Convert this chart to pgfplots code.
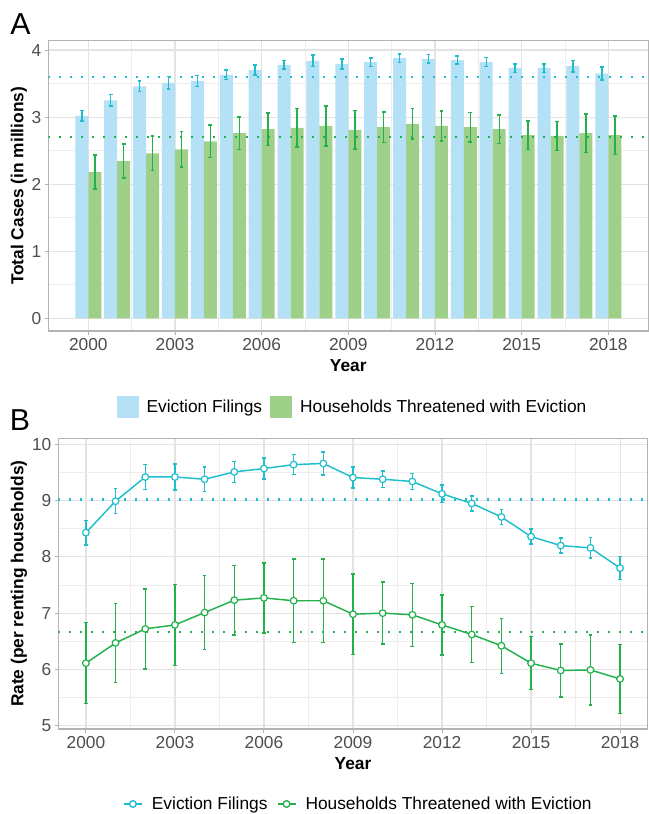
\documentclass[border=0pt]{standalone}
\usepackage{pgfplots}
\pgfplotsset{compat=1.18}
\usepackage{pgfplotstable}
\usepackage{fontspec}
\setmainfont{Liberation Sans}

\definecolor{barblue}{HTML}{B4E1F6}
\definecolor{bargreen}{HTML}{9FD08A}
\definecolor{lblue}{HTML}{20BECD}
\definecolor{lgreen}{HTML}{22B14C}
\definecolor{gridmaj}{HTML}{E3E3E3}
\definecolor{gridmin}{HTML}{EDEDED}
\definecolor{bordergray}{HTML}{B3B3B3}
\definecolor{ticktext}{HTML}{4D4D4D}

\pgfplotstableread{
year ef efe ht hte
2000 3.02 0.080 2.18 0.253
2001 3.25 0.085 2.345 0.253
2002 3.46 0.080 2.46 0.258
2003 3.51 0.092 2.52 0.266
2004 3.54 0.082 2.64 0.243
2005 3.63 0.070 2.76 0.239
2006 3.70 0.075 2.82 0.243
2007 3.78 0.065 2.84 0.288
2008 3.84 0.085 2.87 0.298
2009 3.79 0.075 2.81 0.288
2010 3.82 0.062 2.85 0.226
2011 3.88 0.062 2.90 0.229
2012 3.87 0.062 2.87 0.224
2013 3.85 0.060 2.85 0.219
2014 3.82 0.065 2.82 0.211
2015 3.73 0.062 2.73 0.211
2016 3.73 0.062 2.72 0.214
2017 3.76 0.085 2.76 0.286
2018 3.65 0.097 2.73 0.288
}\dataA

\pgfplotstableread{
year ef efe ht hte
2000 8.43 0.216 6.11 0.72
2001 8.99 0.222 6.47 0.70
2002 9.42 0.219 6.72 0.71
2003 9.42 0.231 6.79 0.72
2004 9.38 0.219 7.01 0.66
2005 9.51 0.184 7.23 0.62
2006 9.57 0.190 7.27 0.625
2007 9.64 0.178 7.22 0.74
2008 9.66 0.204 7.22 0.746
2009 9.41 0.184 6.98 0.717
2010 9.38 0.148 7.00 0.55
2011 9.34 0.142 6.97 0.56
2012 9.12 0.154 6.79 0.536
2013 8.95 0.133 6.62 0.50
2014 8.71 0.136 6.42 0.489
2015 8.36 0.133 6.11 0.471
2016 8.20 0.133 5.98 0.471
2017 8.16 0.181 5.99 0.622
2018 7.80 0.207 5.83 0.616
}\dataB

\pgfplotsset{
  gg/.style={
    scale only axis,
    anchor=south west,
    axis line style={draw=bordergray, line width=0.9pt},
    grid=both,
    major grid style={draw=gridmaj, line width=0.9pt},
    minor grid style={draw=gridmin, line width=0.5pt},
    tick style={draw=bordergray, line width=0.7pt},
    major tick length=2.8pt,
    minor tick length=0pt,
    tick align=outside,
    xtick pos=bottom, ytick pos=left,
    /pgf/number format/assume math mode=true,
    /pgf/number format/1000 sep={},
    ticklabel style={font=\fontsize{13}{15.6}\selectfont, text=ticktext, inner sep=0pt},
    xticklabel style={anchor=north, yshift=-2.5pt},
    yticklabel style={anchor=east, xshift=-2.2pt},
    legend style={draw=none, fill=none, font=\fontsize{13}{15.6}\selectfont,
      legend columns=2, nodes={inner sep=0pt}, column sep=6pt},
  },
  errb/.style={forget plot, draw=none, mark=none,
    error bars/.cd, y dir=both, y explicit,
    error bar style={draw=#1, line width=1.1pt, solid},
    error mark options={rotate=90, draw=#1, line width=1.1pt, mark size=1.4pt}},
}

\begin{document}
\begin{tikzpicture}
\begin{scope}[x=0.75pt,y=0.75pt]
\useasboundingbox (0,0) rectangle (648,814);
\end{scope}

% ---------------- Panel A ----------------
\begin{axis}[gg,
  at={(36.225pt,362.25pt)},
  width=450pt, height=217.7pt,
  xmin=1998.615, xmax=2019.385, ymin=-0.189, ymax=4.139,
  xtick={2000,2003,...,2018},
  minor xtick={2001.5,2004.5,2007.5,2010.5,2013.5,2016.5},
  ytick={0,1,2,3,4},
  minor ytick={0.5,1.5,2.5,3.5},
  legend style={at={(axis description cs:0.5053,-0.2618)}, anchor=center},
  legend image code/.code={\fill[#1, draw=none] (0pt,-8.25pt) rectangle (16.5pt,8.25pt);},
]
\addplot[forget plot, ybar, bar width=0.45, bar shift=-0.225, fill=barblue, draw=none]
  table[x=year, y=ef] {\dataA};
\addplot[forget plot, ybar, bar width=0.45, bar shift=0.225, fill=bargreen, draw=none]
  table[x=year, y=ht] {\dataA};
\addplot[errb=lblue] table[x expr=\thisrow{year}-0.225, y=ef, y error=efe] {\dataA};
\addplot[errb=lgreen] table[x expr=\thisrow{year}+0.225, y=ht, y error=hte] {\dataA};
\addplot[forget plot, draw=lblue, line width=1.6pt, dash pattern=on 1.6pt off 6.65pt]
  coordinates {(1998.615,3.60) (2019.385,3.60)};
\addplot[forget plot, draw=lgreen, line width=1.6pt, dash pattern=on 1.6pt off 6.65pt]
  coordinates {(1998.615,2.70) (2019.385,2.70)};
\addlegendimage{fill=barblue}
\addlegendentry{Eviction Filings}
\addlegendimage{fill=bargreen}
\addlegendentry{Households Threatened with Eviction}
\end{axis}

% ---------------- Panel B ----------------
\begin{axis}[gg,
  at={(43.725pt,63.75pt)},
  width=442.05pt, height=218.0pt,
  xmin=1999.07, xmax=2018.93, ymin=4.94, ymax=10.107,
  xtick={2000,2003,...,2018},
  minor xtick={2001.5,2004.5,2007.5,2010.5,2013.5,2016.5},
  ytick={5,6,7,8,9,10},
  minor ytick={5.5,6.5,7.5,8.5,9.5},
  legend style={at={(axis description cs:0.5076,-0.258)}, anchor=center, column sep=7pt},
  legend image code/.code={\draw[#1] (0pt,0pt) -- (13.5pt,0pt);
     \draw[#1, fill=white] (6.75pt,0pt) circle (2.5pt);},
]
\addplot[forget plot, draw=lblue, line width=1.1pt, mark=none] table[x=year, y=ef] {\dataB};
\addplot[forget plot, draw=lgreen, line width=1.1pt, mark=none] table[x=year, y=ht] {\dataB};
\addplot[errb=lblue] table[x=year, y=ef, y error=efe] {\dataB};
\addplot[errb=lgreen] table[x=year, y=ht, y error=hte] {\dataB};
\addplot[forget plot, draw=lblue, line width=1.6pt, dash pattern=on 1.6pt off 6.65pt]
  coordinates {(1999.07,9.02) (2018.93,9.02)};
\addplot[forget plot, draw=lgreen, line width=1.6pt, dash pattern=on 1.6pt off 6.65pt]
  coordinates {(1999.07,6.67) (2018.93,6.67)};
\addplot[forget plot, only marks, mark=*, mark size=2.5pt,
  mark options={draw=lblue, fill=white, line width=0.9pt}]
  table[x=year, y=ef] {\dataB};
\addplot[forget plot, only marks, mark=*, mark size=2.5pt,
  mark options={draw=lgreen, fill=white, line width=0.9pt}]
  table[x=year, y=ht] {\dataB};
\addlegendimage{draw=lblue, line width=1pt}
\addlegendentry{Eviction Filings}
\addlegendimage{draw=lgreen, line width=1pt}
\addlegendentry{Households Threatened with Eviction}
\end{axis}

% ---------------- titles ----------------
\begin{scope}[x=0.75pt,y=0.75pt]
\node[anchor=base west, inner sep=0pt, font=\fontsize{22.7}{27}\selectfont] at (10,779) {A};
\node[anchor=base west, inner sep=0pt, font=\fontsize{22.7}{27}\selectfont] at (9.6,383.3) {B};
\node[anchor=base, inner sep=0pt, font=\bfseries\fontsize{13}{15.6}\selectfont] at (348.3,442.3) {Year};
\node[anchor=base, inner sep=0pt, font=\bfseries\fontsize{13}{15.6}\selectfont] at (353,44.7) {Year};
\node[rotate=90, anchor=center, inner sep=0pt, font=\bfseries\fontsize{13}{15.6}\selectfont] at (19,628.1) {Total Cases (in millions)};
\node[rotate=90, anchor=center, inner sep=0pt, font=\bfseries\fontsize{13}{15.6}\selectfont] at (19,230.3) {Rate (per renting households)};
\end{scope}
\end{tikzpicture}
\end{document}
